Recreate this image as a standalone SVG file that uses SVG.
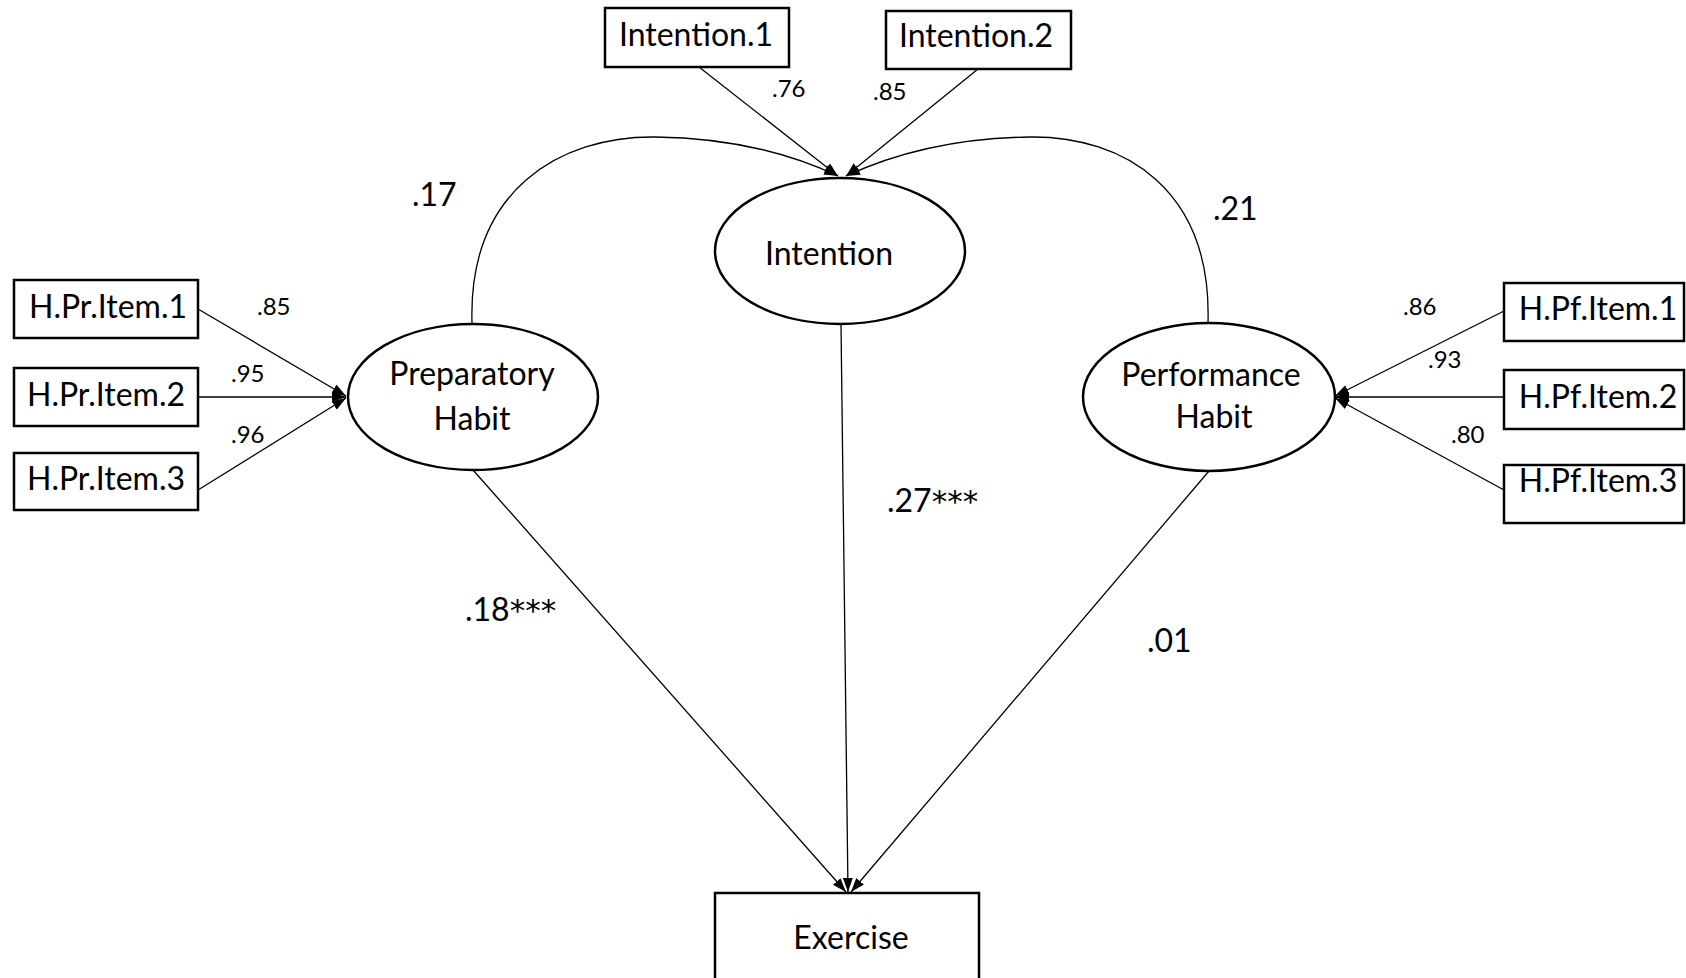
<svg xmlns="http://www.w3.org/2000/svg" width="1686" height="978" viewBox="0 0 1686 978">
  <style>
    .box { fill: #ffffff; stroke: #000000; stroke-width: 2.5; }
    .lat { fill: #ffffff; stroke: #000000; stroke-width: 2.5; }
    .lbl { font-family: Lato, "Open Sans", sans-serif; font-size: 32px; fill: #000000; text-anchor: middle; }
    .coef { font-family: Lato, "Open Sans", sans-serif; font-size: 24px; fill: #000000; }
    .path { font-family: Lato, "Open Sans", sans-serif; font-size: 32px; fill: #000000; }
    .sig { font-family: "DejaVu Sans", sans-serif; font-size: 31px; }
    .edge { fill: none; stroke: #000000; stroke-width: 1.3; marker-end: url(#arr); }
  </style>
  <defs>
    <marker id="arr" viewBox="0 0 14 12" refX="14" refY="6" markerWidth="14" markerHeight="12" markerUnits="userSpaceOnUse" orient="auto">
      <path d="M0,1 L14,6 L0,11 z" fill="#000000"/>
    </marker>
  </defs>
  <rect width="1686" height="978" fill="#ffffff"/>

  <!-- connectors -->
  <g id="connectors">
    <path class="edge" d="M699,67 L838,176"/>
    <path class="edge" d="M978,69 L846,176"/>
    <path class="edge" d="M472,323 C468,190 560,136 655,137 C740,138 800,158 838,176"/>
    <path class="edge" d="M1208,323 C1212,190 1125,136 1030,137 C945,138 885,158 846,176"/>
    <path class="edge" d="M198,309 L346,396"/>
    <path class="edge" d="M198,397 L346,397"/>
    <path class="edge" d="M198,490 L346,398"/>
    <path class="edge" d="M1504,311 L1335,396"/>
    <path class="edge" d="M1504,397 L1335,397"/>
    <path class="edge" d="M1504,490 L1335,398"/>
    <path class="edge" d="M841,324 L848,892"/>
    <path class="edge" d="M473,470 L846,892"/>
    <path class="edge" d="M1209,471 L851,892"/>
  </g>

  <!-- path coefficients -->
  <g id="coefficients">
    <text class="coef" x="772" y="97">.76</text>
    <text class="coef" x="873" y="100">.85</text>
    <text class="coef" x="257" y="315">.85</text>
    <text class="coef" x="231" y="382">.95</text>
    <text class="coef" x="231" y="443">.96</text>
    <text class="coef" x="1403" y="315">.86</text>
    <text class="coef" x="1428" y="368">.93</text>
    <text class="coef" x="1451" y="443">.80</text>
    <text class="path" x="412" y="206">.17</text>
    <text class="path" x="1213" y="220">.21</text>
    <text class="path" x="887" y="512">.27<tspan class="sig">***</tspan></text>
    <text class="path" x="465" y="621">.18<tspan class="sig">***</tspan></text>
    <text class="path" x="1147" y="652">.01</text>
  </g>

  <!-- observed indicators -->
  <g id="intention-1">
    <rect class="box" x="605" y="8" width="184" height="59"/>
    <text class="lbl" x="696" y="46">Intention.1</text>
  </g>
  <g id="intention-2">
    <rect class="box" x="886" y="11" width="185" height="58"/>
    <text class="lbl" x="976" y="47">Intention.2</text>
  </g>
  <g id="h-pr-item-1">
    <rect class="box" x="14" y="280" width="184" height="58"/>
    <text class="lbl" x="108" y="318">H.Pr.Item.1</text>
  </g>
  <g id="h-pr-item-2">
    <rect class="box" x="14" y="368" width="184" height="58"/>
    <text class="lbl" x="106" y="406">H.Pr.Item.2</text>
  </g>
  <g id="h-pr-item-3">
    <rect class="box" x="14" y="453" width="184" height="57"/>
    <text class="lbl" x="106" y="490">H.Pr.Item.3</text>
  </g>
  <g id="h-pf-item-1">
    <rect class="box" x="1504" y="283" width="180" height="58"/>
    <text class="lbl" x="1598" y="320">H.Pf.Item.1</text>
  </g>
  <g id="h-pf-item-2">
    <rect class="box" x="1504" y="370" width="180" height="59"/>
    <text class="lbl" x="1598" y="408">H.Pf.Item.2</text>
  </g>
  <g id="h-pf-item-3">
    <rect class="box" x="1504" y="465" width="180" height="58"/>
    <text class="lbl" x="1598" y="492">H.Pf.Item.3</text>
  </g>

  <!-- latent factors -->
  <g id="intention">
    <ellipse class="lat" cx="840" cy="251" rx="125" ry="73"/>
    <text class="lbl" x="829" y="265">Intention</text>
  </g>
  <g id="preparatory-habit">
    <ellipse class="lat" cx="473" cy="397" rx="125" ry="73"/>
    <text class="lbl" x="472" y="385">Preparatory</text>
    <text class="lbl" x="472" y="430">Habit</text>
  </g>
  <g id="performance-habit">
    <ellipse class="lat" cx="1209" cy="397" rx="126" ry="74"/>
    <text class="lbl" x="1211" y="386">Performance</text>
    <text class="lbl" x="1214" y="428">Habit</text>
  </g>

  <!-- outcome -->
  <g id="exercise">
    <rect class="box" x="715" y="893" width="264" height="100"/>
    <text class="lbl" x="851" y="949">Exercise</text>
  </g>
</svg>
